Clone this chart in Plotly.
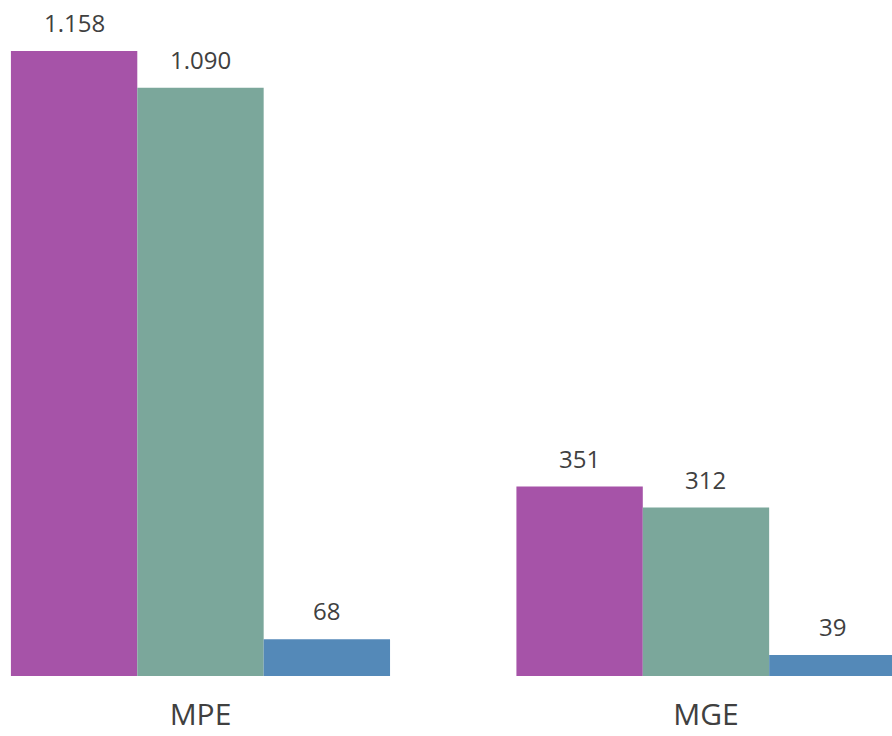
import plotly.graph_objects as go

categories = ["MPE", "MGE"]
series_a = [1158, 351]
series_b = [1090, 312]
series_c = [68, 39]
series_names = ["Serie A", "Serie B", "Serie C"]
colors = ["#A653A8", "#7BA79B", "#5489B8"]

W, H = 892, 736
M_B = 60
BARGAP = 0.25
X_RANGE = [-0.3966, 1.368]

def fmt(v):
    return f"{v:,}".replace(",", ".")

fig = go.Figure()
all_series = [series_a, series_b, series_c]
for name, vals, col in zip(series_names, all_series, colors):
    fig.add_trace(go.Bar(
        x=categories, y=vals, name=name,
        marker=dict(color=col, line=dict(width=0)),
        cliponaxis=False,
    ))

# value labels placed above each bar, offset to the bar's slot within the group
n = len(all_series)
unit_px = W / (X_RANGE[1] - X_RANGE[0])
bar_px = unit_px * (1 - BARGAP) / n
for i, vals in enumerate(all_series):
    for cat, v in zip(categories, vals):
        fig.add_annotation(
            x=cat, y=v, xref="x", yref="y",
            text=fmt(v), showarrow=False,
            xanchor="center", yanchor="bottom",
            xshift=(i - (n - 1) / 2) * bar_px, yshift=10,
            font=dict(family="Open Sans", size=24, color="#404040"),
        )

fig.update_layout(
    barmode="group",
    bargap=BARGAP,
    bargroupgap=0,
    width=W, height=H,
    margin=dict(l=0, r=0, t=0, b=M_B, autoexpand=False),
    plot_bgcolor="white",
    paper_bgcolor="white",
    showlegend=False,
    font=dict(family="Open Sans", color="#404040"),
    xaxis=dict(range=X_RANGE, showgrid=False, showline=False, zeroline=False,
               automargin=False,
               ticks="outside", ticklen=12, tickcolor="rgba(0,0,0,0)",
               tickfont=dict(size=30, color="#404040")),
    yaxis=dict(range=[0, 1252.6], visible=False, showgrid=False, zeroline=False,
               automargin=False),
)

fig.write_html("out.html", config={"displayModeBar": False},
               post_script="document.body.style.margin='0';")
